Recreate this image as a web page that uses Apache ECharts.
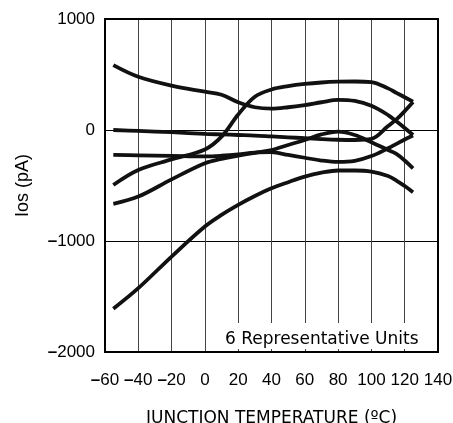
<!DOCTYPE html>
<html>
<head>
<meta charset="utf-8">
<script src="https://cdn.jsdelivr.net/npm/echarts@6/dist/echarts.min.js"></script>
<style>
html,body{margin:0;padding:0;background:#fff;}
#c{width:453px;height:423px;}
</style>
</head>
<body>
<div id="c"></div>
<script>
// Temperatures (°C) at which each curve is sampled
const temps = [-55,-40,-20,0,10,20,30,40,50,60,70,80,90,100,110,115,120,125];
// Ios (pA) for the 6 representative units
const unitA = [585,480,400,345,318,250,205,192,205,225,250,272,262,218,135,78,18,-45];
const unitB = [-495,-360,-265,-175,-60,140,300,365,395,415,428,435,437,432,375,335,295,255];
const unitC = [0,-8,-20,-35,-40,-45,-50,-58,-66,-74,-82,-88,-90,-80,35,95,170,252];
const unitD = [-225,-228,-233,-238,-232,-220,-203,-200,-225,-250,-275,-288,-278,-235,-165,-125,-85,-50];
const unitE = [-665,-600,-445,-300,-260,-232,-205,-180,-135,-90,-40,-15,-45,-110,-180,-215,-275,-345];
const unitF = [-1610,-1425,-1140,-870,-765,-675,-595,-525,-470,-420,-385,-365,-365,-375,-415,-455,-505,-560];
const units = [unitA, unitB, unitC, unitD, unitE, unitF];

const xTicks = {min:-60, max:140, interval:20};
const yTicks = {min:-2000, max:1000, interval:1000};

const chart = echarts.init(document.getElementById('c'), null, {renderer:'canvas'});

function fmt(v){
  return v < 0 ? '{m|\u2013}{n|' + Math.abs(v) + '}' : '{n|' + v + '}';
}
const richLab = {
  m:{fontFamily:'Liberation Sans', fontWeight:'bold', fontSize:17, color:'#000'},
  n:{fontFamily:'Liberation Sans', fontSize:17, color:'#000'}
};

chart.setOption({
  animation:false,
  backgroundColor:'#fff',
  grid:{left:105, right:15, top:19, bottom:71, containLabel:false, outerBoundsMode:'none',
        show:true, borderColor:'#000', borderWidth:2, backgroundColor:'transparent', z:4},
  xAxis:{
    type:'value', min:xTicks.min, max:xTicks.max, interval:xTicks.interval,
    axisLine:{show:false}, axisTick:{show:false},
    splitLine:{show:true, lineStyle:{color:'#444', width:1}},
    axisLabel:{margin:20, formatter:fmt, rich:richLab},
    name:'JUNCTION TEMPERATURE (\u00baC)', nameLocation:'middle', nameGap:58,
    nameTextStyle:{fontFamily:'DejaVu Sans', fontSize:17, color:'#000', verticalAlign:'top'}
  },
  yAxis:{
    type:'value', min:yTicks.min, max:yTicks.max, interval:yTicks.interval,
    axisLine:{show:false}, axisTick:{show:false},
    splitLine:{show:true, lineStyle:{color:'#000', width:1}},
    axisLabel:{margin:10, formatter:fmt, rich:richLab},
    name:'Ios (pA)', nameLocation:'middle', nameGap:73,
    nameTextStyle:{fontFamily:'Liberation Sans', fontSize:18, color:'#000'}
  },
  graphic:[
    {type:'rect', z:1, shape:{x:212, y:323, width:224, height:26}, style:{fill:'#fff'}},
    {type:'text', z:3, left:225, top:331, style:{text:'6 Representative Units', font:'17px "DejaVu Sans"', fill:'#000'}}
  ],
  series: units.map(u => ({
    type:'line', smooth:0.35, showSymbol:false, symbol:'none', z:5,
    lineStyle:{color:'#111', width:3.8},
    data: temps.map((t,i) => [t, u[i]])
  }))
});
</script>
</body>
</html>
